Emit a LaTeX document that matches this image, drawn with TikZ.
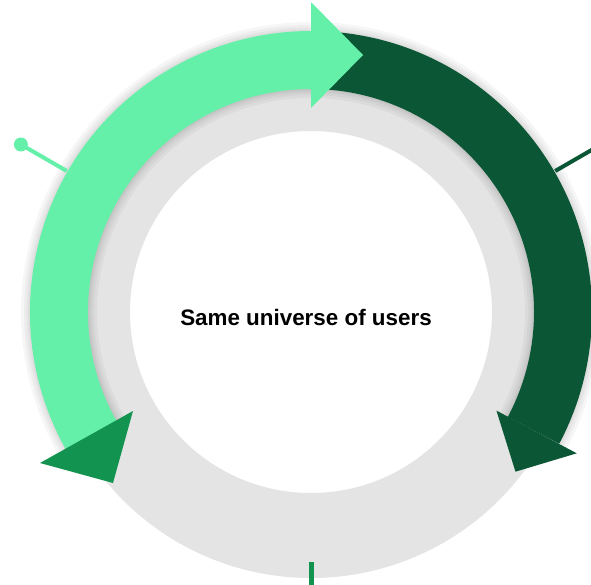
\documentclass[tikz,border=0pt]{standalone}
\usepackage{fontspec}
\setmainfont{Liberation Sans}
\usetikzlibrary{calc}
\definecolor{mintgreen}{HTML}{65F0AA}
\definecolor{forestgreen}{HTML}{0B5634}
\definecolor{midgreen}{HTML}{12934F}
\definecolor{ringgrey}{HTML}{E4E4E4}
\tikzset {
  % grey track behind the two arrows
  track/.style={draw=ringgrey, line width=85pt},
  % curved arrow bodies
  band/.style={line width=58pt},
  % soft shadow under a band
  haze/.style={draw=black, opacity=0.035},
  % thin lines sticking out of the ring
  spoke/.style={line width=4pt},
  caption/.style={font=\bfseries\fontsize{22.4}{26}\selectfont, anchor=base},
}

\begin{document}
\begin{tikzpicture}[x=1pt, y=1pt]
  \begin{scope}
    \clip (-311,-272) rectangle (280,312);

    % ring
    \draw[track] (0,0) circle[radius=223.5];

    % shadows of both bands
    \foreach \w in {76,70,65,61} {
      \draw[haze, line width=\w pt] (211:252) arc[start angle=211, end angle=90, radius=252];
      \draw[haze, line width=\w pt] (90:252) arc[start angle=90, end angle=-28, radius=252];
    }

    % dark band, clockwise
    \draw[band, forestgreen] (88:252) arc[start angle=88, end angle=-28, radius=252];
    \fill[forestgreen] (-28:210) -- ($(-28:255.5)+(-118:45)$) -- (-28:301) -- cycle;

    % light band, counter-clockwise (runs on under its head)
    \draw[band, mintgreen] (211:252) arc[start angle=211, end angle=87, radius=252];
    \fill[mintgreen] (90:204) -- (52,257) -- (90:310) -- cycle;
    \fill[midgreen] (-178,-99) -- (-271,-151) -- (-198,-171) -- cycle;

    % spokes
    \coordinate (leftIn) at (150:282);
    \coordinate (leftOut) at (150:335);
    \coordinate (rightIn) at (30:282);
    \coordinate (rightOut) at (30:340);
    \coordinate (bottomIn) at (0,-250);
    \coordinate (bottomOut) at (0,-290);
    \draw[spoke, mintgreen] (leftIn) -- (leftOut);
    \fill[mintgreen] (leftOut) circle[radius=7];
    \draw[spoke, forestgreen] (rightIn) -- (rightOut);
    \draw[spoke, midgreen, line width=5pt] (bottomIn) -- (bottomOut);

    \node[caption] (title) at (-5,-13) {Same universe of users};
  \end{scope}
  \pgfresetboundingbox
  \useasboundingbox (-311,-272) rectangle (280,312);
\end{tikzpicture}
\end{document}
